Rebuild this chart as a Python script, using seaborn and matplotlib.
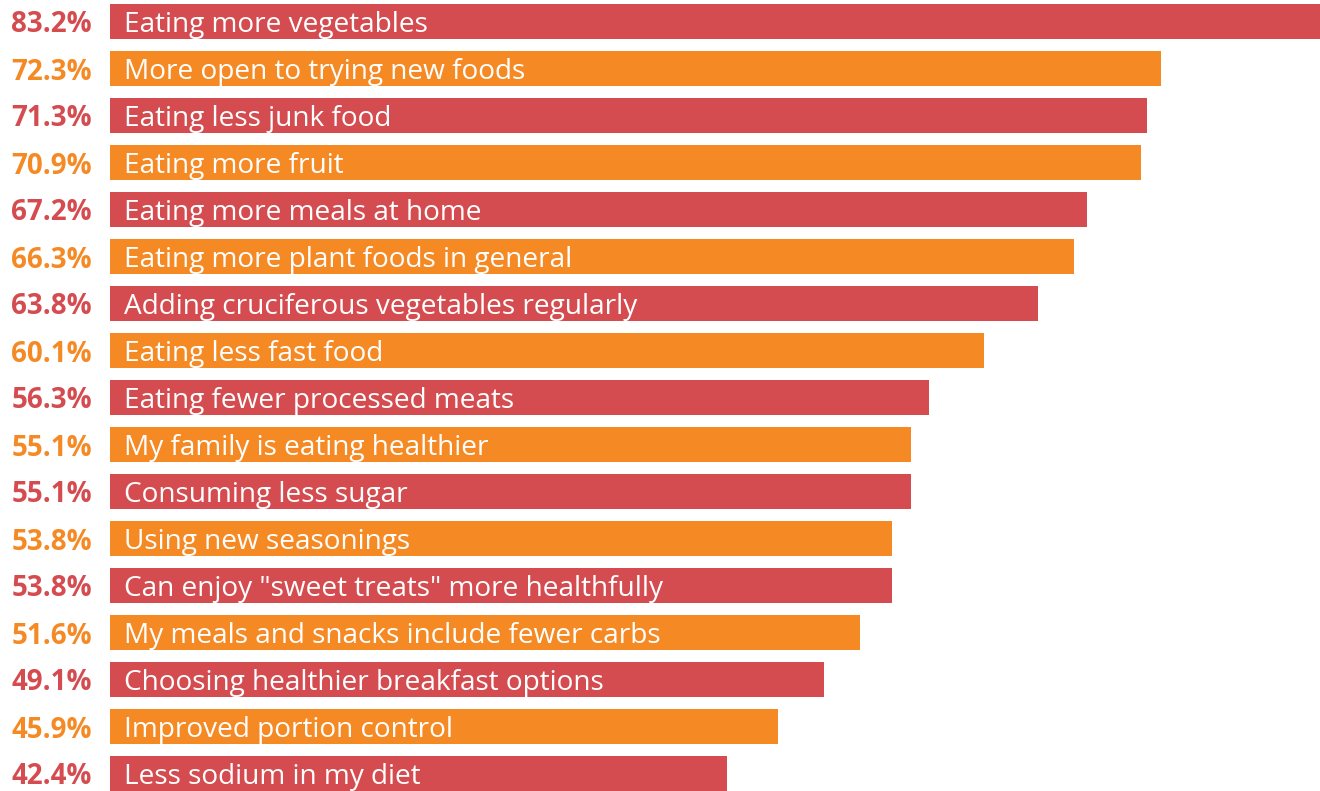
import pandas as pd
import matplotlib
matplotlib.use('Agg')
import matplotlib.pyplot as plt
import seaborn as sns

categories = ['Eating more vegetables', 'More open to trying new foods', 'Eating less junk food',
              'Eating more fruit', 'Eating more meals at home', 'Eating more plant foods in general',
              'Adding cruciferous vegetables regularly', 'Eating less fast food',
              'Eating fewer processed meats', 'My family is eating healthier', 'Consuming less sugar',
              'Using new seasonings', 'Can enjoy "sweet treats" more healthfully',
              'My meals and snacks include fewer carbs', 'Choosing healthier breakfast options',
              'Improved portion control', 'Less sodium in my diet']
values = [83.2, 72.3, 71.3, 70.9, 67.2, 66.3, 63.8, 60.1, 56.3, 55.1, 55.1, 53.8, 53.8, 51.6, 49.1, 45.9, 42.4]

red = '#D44C50'
orange = '#F58A25'
colors = [red if i % 2 == 0 else orange for i in range(len(categories))]

df = pd.DataFrame({'item': categories, 'pct': values, 'col': colors})

sns.set_style('white')
plt.rcParams['font.family'] = ['Open Sans', 'DejaVu Sans']

fig = plt.figure(figsize=(13.2, 7.91), dpi=100)
ax = fig.add_axes([110 / 1320, 0, 1210 / 1320, 1])

sns.barplot(data=df, y='item', x='pct', hue='item', palette=dict(zip(categories, colors)),
            orient='h', width=0.745, legend=False, ax=ax, saturation=1, linewidth=0)

ax.set_xlim(0, 83.2)
ax.set_ylim(16 + 17.5 / 47, -21.5 / 47)
ax.axis('off')

for i, (name, v, c) in enumerate(zip(categories, values, colors)):
    ax.text(0.95, i, name, color='white', fontsize=20.2, va='center_baseline', ha='left')
    ax.text(-1.25, i, f'{v:.1f}%', color=c, fontsize=20, fontweight='bold',
            va='center_baseline', ha='right')

fig.savefig('out.png', dpi=100)
